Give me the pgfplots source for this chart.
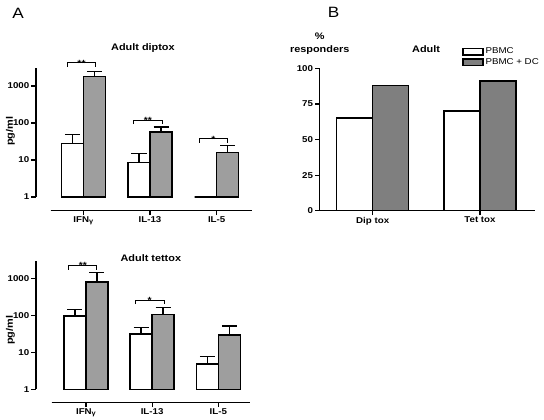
\documentclass[border=0pt]{standalone}
\usepackage{fontspec}
\setmainfont{Liberation Sans}[FakeStretch=1.15]
\usepackage{pgfplots}
\pgfplotsset{compat=1.18}
\usetikzlibrary{calc}
\definecolor{gA}{HTML}{9E9E9E}
\definecolor{gB}{HTML}{7F7F7F}
\tikzset{
  brk/.style={line width=1bp},
  star/.style={font=\fontsize{9}{10}\selectfont\bfseries, anchor=base, yshift=-3.2bp},
  xtk/.style={line width=1.2bp},
}
\newcommand{\bracket}[4]{% x1, x2, y, stars
  \coordinate (bL) at (axis cs:#1,#3);
  \coordinate (bR) at (axis cs:#2,#3);
  \draw[brk] ([yshift=-4bp]bL) -- (bL) -- (bR) -- ([yshift=-4bp]bR);
  \node[star] at ($(bL)!0.5!(bR)$) {#4};
}
\newcommand{\xcoords}[1]{% prefix
  \coordinate (#1L) at (rel axis cs:0,0);
  \coordinate (#1R) at (rel axis cs:1,0);
  \coordinate (#1a) at (axis cs:0,1);
  \coordinate (#1b) at (axis cs:1,1);
  \coordinate (#1c) at (axis cs:2,1);
}
\newcommand{\xaxisline}[3]{% prefix, shift, shift+ticklength
  \draw[line width=1.5bp, black] ([yshift=-#2]#1L) -- ([yshift=-#2]#1R);
  \draw[xtk] ([yshift=-#2]#1a) -- ([yshift=-#3]#1a);
  \draw[xtk] ([yshift=-#2]#1b) -- ([yshift=-#3]#1b);
  \draw[xtk] ([yshift=-#2]#1c) -- ([yshift=-#3]#1c);
}
\pgfplotsset{
  gp/.style={
    scale only axis,
    axis x line=bottom, axis y line=left,
    axis line style={line width=1.4bp,-},
    every outer x axis line/.append style={-},
    every outer y axis line/.append style={-},
    every inner x axis line/.append style={-},
    every inner y axis line/.append style={-},
    tick style={line width=1.2bp, black},
    tick align=outside,
    major tick length=4.5bp,
    ticklabel style={font=\fontsize{8.5}{10}\selectfont\bfseries},
    yticklabel style={inner sep=2bp},
    xticklabel style={inner sep=1.5bp},
    /pgf/number format/assume math mode=true,
    label style={font=\fontsize{9.5}{11}\selectfont\bfseries},
    title style={font=\fontsize{9.5}{11}\selectfont\bfseries},
    every axis title shift=0pt,
    clip=false,
    ybar=0pt,
    error bars/y dir=plus,
    error bars/y explicit,
    error bars/error bar style={line width=1.3bp, black},
    error bars/error mark options={line width=1.3bp, mark size=7.5bp, black, rotate=90},
  },
  wbar/.style={draw=black, fill=white, line width=1.4bp},
  gbar/.style={draw=black, fill=gA, line width=1.4bp},
  boxleg/.style={legend image code/.code={\draw[##1, line width=1.3bp] (0bp,-3.2bp) rectangle (20bp,3.2bp);}},
}
\newcommand{\ifng}{IFN\raisebox{-0.8bp}{\fontsize{6.5}{7}\selectfont γ}}
\begin{document}
\begin{tikzpicture}
\useasboundingbox (0,0) rectangle (544bp,-420bp);
\node[anchor=base, font=\fontsize{15}{15}\selectfont] at (18bp,-18.3bp) {A};
\node[anchor=base, font=\fontsize{15}{15}\selectfont] at (333.7bp,-17.3bp) {B};

% ---------- A top: Adult diptox ----------
\begin{axis}[gp,
  at={(50.7bp,-197bp)}, anchor=south west,
  width=201bp, height=129bp,
  ymode=log, ymin=1, ymax=3064,
  xmin=-0.489, xmax=2.525,
  bar width=22bp,
  axis x line shift=13.7bp, axis y line shift=14.7bp,
  ytick={1,10,100,1000}, yticklabels={1,10,100,1000}, yminorticks=false,
  xtick={0,1,2}, xticklabels={\ifng,IL-13,IL-5},
  title={Adult diptox},
  title style={at={(axis description cs:0.459,1.132)}, anchor=base},
  ylabel={pg/ml},
  ylabel style={at={(axis description cs:-0.2,0.51)}, anchor=center},
]
\addplot[wbar] coordinates {(0,27.5) +- (0,21.5) (1,8.7) +- (0,6.1) (2,1) +- (0,0)};
\addplot[gbar] coordinates {(0,1780) +- (0,720) (1,57) +- (0,21) (2,16) +- (0,8.5)};
\bracket{-0.244}{0.19}{4190}{**}
\bracket{0.75}{1.184}{120.5}{**}
\bracket{1.735}{2.166}{37}{*}
\xcoords{pa}
\end{axis}
\xaxisline{pa}{13.7bp}{18.2bp}

% ---------- A bottom: Adult tettox ----------
\begin{axis}[gp,
  at={(51.7bp,-389.3bp)}, anchor=south west,
  width=198.3bp, height=128.6bp,
  ymode=log, ymin=1, ymax=2990,
  xmin=-0.518, xmax=2.479,
  bar width=22bp,
  axis x line shift=13.4bp, axis y line shift=15.7bp,
  ytick={1,10,100,1000}, yticklabels={1,10,100,1000}, yminorticks=false,
  xtick={0,1,2}, xticklabels={\ifng,IL-13,IL-5},
  title={Adult tettox},
  title style={at={(axis description cs:0.5,0.994)}, anchor=base},
  ylabel={pg/ml},
  ylabel style={at={(axis description cs:-0.208,0.46)}, anchor=center},
]
\addplot[wbar] coordinates {(0,95) +- (0,50) (1,31) +- (0,15) (2,4.8) +- (0,3)};
\addplot[gbar] coordinates {(0,790) +- (0,660) (1,106) +- (0,58) (2,29) +- (0,22)};
\bracket{-0.257}{0.166}{2190}{**}
\bracket{0.743}{1.181}{259}{*}
\xcoords{pb}
\end{axis}
\xaxisline{pb}{13.4bp}{17.9bp}

% ---------- B: Adult % responders ----------
\begin{axis}[gp,
  at={(319.7bp,-210.7bp)}, anchor=south west,
  width=215.3bp, height=142.4bp,
  ymin=0, ymax=100, ytick={0,25,50,75,100},
  xmin=-0.494, xmax=1.513,
  bar width=36bp,
  xtick={0,1}, xticklabels={Dip tox,Tet tox},
  title={Adult},
  title style={at={(axis description cs:0.494,1.111)}, anchor=base},
  ylabel={\%\\responders},
  ylabel style={rotate=-90, align=center, inner sep=0pt, font=\fontsize{9.5}{13.5}\selectfont\bfseries,
    at={(axis description cs:0,1.093)}, anchor=south},
  legend style={at={(axis description cs:0.661,1.158)}, anchor=north west, draw=none, fill=none,
    font=\fontsize{8.5}{9.5}\selectfont, row sep=-1bp, inner sep=0pt},
  legend cell align=left,
]
\addplot[wbar, boxleg] coordinates {(0,65) (1,70)};
\addplot[draw=black, fill=gB, line width=1.4bp, boxleg] coordinates {(0,88) (1,91)};
\legend{PBMC, PBMC + DC}
\end{axis}
\end{tikzpicture}
\end{document}
